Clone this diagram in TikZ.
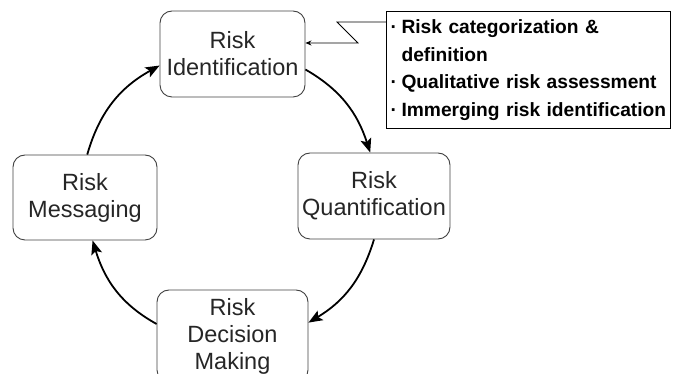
\documentclass[tikz,border=0pt]{standalone}
\usepackage{fontspec}
\setmainfont{Liberation Sans}
\usetikzlibrary{arrows.meta,positioning}

\newcommand{\itemdot}{\makebox[11pt][l]{·}}

\begin{document}
\begin{tikzpicture}[
  x=1pt, y=1pt,
  stage/.style={draw=black!75, rounded corners=12pt, align=center, line width=0.9pt,
    font=\fontsize{23.5}{27}\selectfont, text=black!85, inner sep=0pt},
  flow/.style={-{Stealth[length=14pt,width=11pt,inset=3pt]}, line width=1.8pt},
  note/.style={draw, line width=1.1pt, align=left, text width=280pt, inner xsep=2pt,
    font=\bfseries\fontsize{19.2}{27.5}\selectfont, anchor=north west, minimum height=117pt},
  pointer/.style={-{Stealth[length=6pt,width=5pt]}, line width=0.8pt}
]
\useasboundingbox (0,0) rectangle (674,374);

\node[stage, minimum width=145pt, minimum height=86pt] (ident) at (232.5,320) {Risk\\Identification};
\node[stage, minimum width=152pt, minimum height=86pt] (quant) at (374,178) {Risk\\Quantification};
\node[stage, minimum width=151pt, minimum height=92pt] (decide) at (232.5,38) {Risk\\Decision\\Making};
\node[stage, minimum width=144pt, minimum height=85pt] (msg) at (85,176.5) {Risk\\Messaging};

\node[note] (facts) at (386,363) {\hspace*{2pt}\itemdot Risk categorization \&\\\hspace*{13pt}definition\\
  \hspace*{2pt}\itemdot Qualitative risk assessment\\\hspace*{2pt}\itemdot Immerging risk identification};

\draw[flow] (ident.-12) to[out=-30,in=108] (quant.95);
\draw[flow] (quant.south) to[out=-107,in=31] (decide.10);
\draw[flow] (decide.171) to[out=151,in=-73] (msg.-80);
\draw[flow] (msg.87) to[out=74,in=-151] (ident.189);

\draw[pointer] ([yshift=-11pt]facts.north west) -- ++(-49,0) -- ++(21,-21) -- ([yshift=11pt]ident.east);
\end{tikzpicture}
\end{document}
